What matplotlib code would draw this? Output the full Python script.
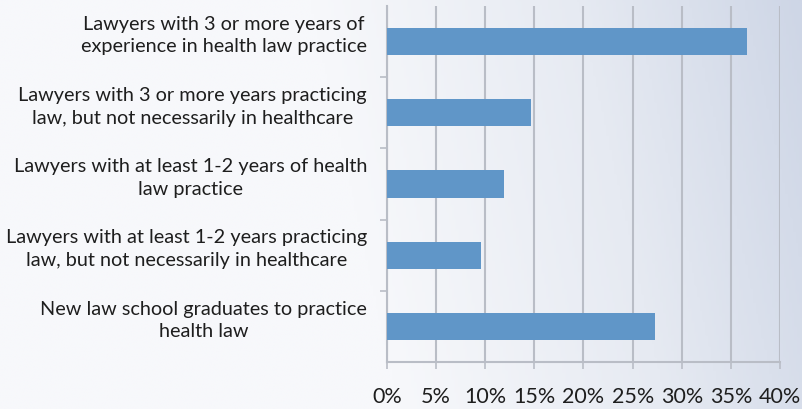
import matplotlib
matplotlib.use('Agg')
import matplotlib.pyplot as plt
import matplotlib.transforms as mtransforms
import numpy as np
from matplotlib.colors import LinearSegmentedColormap

# Data (top to bottom as in the chart)
categories = [
    'Lawyers with 3 or more years of\nexperience in health law practice',
    'Lawyers with 3 or more years practicing\nlaw, but not necessarily in healthcare',
    'Lawyers with at least 1-2 years of health\nlaw practice',
    'Lawyers with at least 1-2 years practicing\nlaw, but not necessarily in healthcare',
    'New law school graduates to practice\nhealth law',
]
values = [36.6, 14.7, 11.9, 9.6, 27.3]
x_ticks = [0, 5, 10, 15, 20, 25, 30, 35, 40]

bar_color = '#6096C8'
grid_color = '#B9BDC6'
text_color = '#1E1E1E'

plt.rcParams['font.family'] = ['Lato', 'DejaVu Sans']

fig = plt.figure(figsize=(8.02, 4.10), dpi=100)

# slide-like background gradient (white on the left, pale blue on the right)
bg = fig.add_axes([0, 0, 1, 1], zorder=-10)
cmap = LinearSegmentedColormap.from_list(
    'bg', [(0.0, '#F7F8FB'), (0.45, '#F7F8FB'), (0.75, '#E6EAF2'), (1.0, '#CED6E6')])
gx = np.linspace(0, 1, 300)
gy = np.linspace(0, 1, 150)
GX, GY = np.meshgrid(gx, gy)
grad = np.clip(GX * 0.9 + (1 - GY) * 0.1, 0, 1)
bg.imshow(grad, cmap=cmap, aspect='auto', extent=[0, 1, 0, 1], origin='upper')
bg.axis('off')

ax = fig.add_axes([0.4825, 0.1146, 0.4901, 0.8684])
ax.patch.set_alpha(0)

y = np.arange(len(categories))
ax.barh(y, values, height=0.38, color=bar_color, zorder=3)
ax.set_ylim(len(categories) - 0.5, -0.5)
ax.set_xlim(0, 40)

ax.set_xticks(x_ticks)
ax.set_xticklabels([f'{t}%' for t in x_ticks], fontsize=15.5, color=text_color)
ax.set_yticks(np.arange(0.5, len(categories) - 0.5, 1))
ax.set_yticklabels([])

# category labels, a little above the bar centres as in the original
trans = mtransforms.blended_transform_factory(ax.transAxes, ax.transData)
trans = trans + mtransforms.ScaledTranslation(-20 / 100, 7 / 100, fig.dpi_scale_trans)
for yi, label in zip(y, categories):
    ax.text(0, yi, label, transform=trans, ha='right', va='center',
            multialignment='center', fontsize=14.3, color=text_color,
            linespacing=1.4)

ax.tick_params(axis='y', length=5, color=grid_color, width=1.2)
ax.tick_params(axis='x', length=5, color=grid_color, width=1.2, pad=12)

ax.grid(axis='x', color=grid_color, linewidth=1.5, zorder=0)
for s in ['top', 'right']:
    ax.spines[s].set_visible(False)
for s in ['left', 'bottom']:
    ax.spines[s].set_color(grid_color)
    ax.spines[s].set_linewidth(1.5)

fig.savefig('out.png', dpi=100)
plt.close(fig)
